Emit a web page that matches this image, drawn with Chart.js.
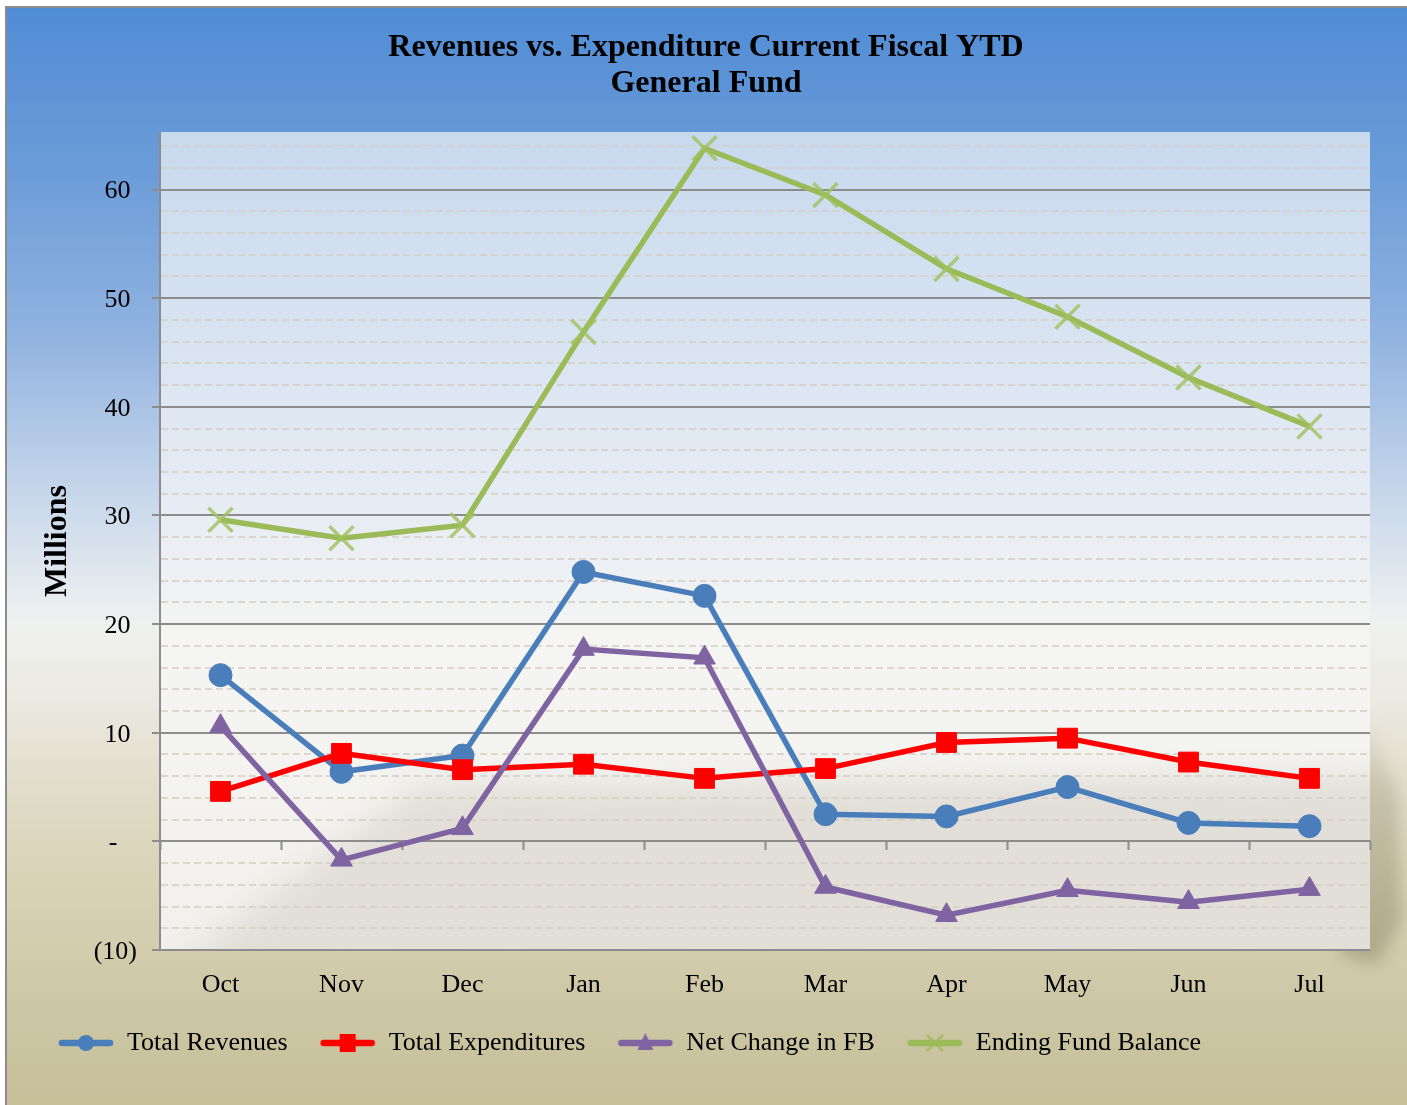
<!DOCTYPE html>
<html>
<head>
<meta charset="utf-8">
<script src="https://cdn.jsdelivr.net/npm/chart.js@4.4.1/dist/chart.umd.min.js"></script>
<style>
  html, body { margin: 0; padding: 0; background: #fff; }
</style>
</head>
<body>
<canvas id="chart" width="1407" height="1105"></canvas>
<script>
// ---------- data
const months = ['Oct', 'Nov', 'Dec', 'Jan', 'Feb', 'Mar', 'Apr', 'May', 'Jun', 'Jul']
const totalRevenues = [15.3, 6.4, 7.9, 24.8, 22.6, 2.5, 2.3, 5.0, 1.7, 1.4]
const totalExpenditures = [4.6, 8.1, 6.6, 7.1, 5.8, 6.7, 9.1, 9.5, 7.3, 5.8]
const netChangeFB = [10.6, -1.7, 1.2, 17.7, 16.9, -4.2, -6.8, -4.5, -5.6, -4.4]
const endingFundBalance = [29.6, 27.9, 29.1, 46.9, 63.8, 59.5, 52.7, 48.3, 42.7, 38.2]
const yTicks = [-10, -8, -6, -4, -2, 0, 2, 4, 6, 8, 10, 12, 14, 16, 18, 20, 22, 24, 26, 28, 30,
  32, 34, 36, 38, 40, 42, 44, 46, 48, 50, 52, 54, 56, 58, 60, 62, 64]
const yMin = -10, yMax = 65.3

const SERIF = "'Liberation Serif', 'Times New Roman', serif"
Chart.defaults.font.family = SERIF
Chart.defaults.color = '#000'

const AXIS_GRAY = '#8c8c8c'
const NBSP = '\u00a0'

function isMajor(v) { return v % 10 === 0 }

// excel accounting style: (10), -, 10 with the paren room kept on the right
function fmtAccounting(v) {
  if (v === 0) return '-' + NBSP + NBSP + NBSP
  if (v < 0) return '(' + Math.abs(v) + ')'
  return String(v) + NBSP
}

// little line + marker pictures for the legend
function legendIcon(color, shape) {
  const c = document.createElement('canvas')
  c.width = 56; c.height = 26
  const g = c.getContext('2d')
  g.strokeStyle = color; g.fillStyle = color
  g.lineWidth = 6.5; g.lineCap = 'round'
  g.beginPath(); g.moveTo(4, 13); g.lineTo(52, 13); g.stroke()
  const cx = 28, cy = 13
  g.beginPath()
  if (shape === 'circle') {
    g.arc(cx, cy, 8, 0, Math.PI * 2); g.fill()
  } else if (shape === 'rect') {
    g.fillRect(cx - 8, cy - 9, 16, 18)
  } else if (shape === 'triangle') {
    g.moveTo(cx, cy - 10); g.lineTo(cx + 8, cy + 7); g.lineTo(cx - 8, cy + 7); g.closePath(); g.fill()
  } else {
    g.strokeStyle = 'rgba(155,187,89,0.8)'
    g.lineWidth = 2.5; g.lineCap = 'butt'
    g.moveTo(cx - 8, cy - 8); g.lineTo(cx + 8, cy + 8)
    g.moveTo(cx + 8, cy - 8); g.lineTo(cx - 8, cy + 8); g.stroke()
  }
  return c
}

const legendIcons = [
  legendIcon('#4a7ebb', 'circle'),
  legendIcon('#ff0000', 'rect'),
  legendIcon('#8064a2', 'triangle'),
  legendIcon('#9bbb59', 'cross')
]

// backgrounds: outer gradient, plot area gradient, shadow
const backdrop = {
  id: 'backdrop',
  afterLayout(chart) {
    // excel centres the title on the whole frame
    chart.titleBlock.left += 8
    chart.titleBlock.right += 8
  },
  beforeDraw(chart) {
    const { ctx, width, height, chartArea: a } = chart
    ctx.save()
    ctx.fillStyle = '#fff'
    ctx.fillRect(0, 0, width, height)

    const g = ctx.createLinearGradient(0, 6, 0, height)
    g.addColorStop(0, '#508cd5')
    g.addColorStop(0.15, '#6b9cd8')
    g.addColorStop(0.3, '#91b3e0')
    g.addColorStop(0.45, '#c9d8eb')
    g.addColorStop(0.56, '#eff1f0')
    g.addColorStop(0.63, '#ebe9e1')
    g.addColorStop(0.76, '#dcd6bd')
    g.addColorStop(0.9, '#cfc8a7')
    g.addColorStop(1, '#c6bf98')
    ctx.fillStyle = g
    ctx.fillRect(6, 7, width - 6, height - 7)
    ctx.strokeStyle = AXIS_GRAY
    ctx.lineWidth = 2
    ctx.strokeRect(6, 7, width + 10, height + 10)

    // shadow at the lower right of the plot
    ctx.save()
    ctx.beginPath()
    ctx.rect(a.right, a.top, width - a.right, height - a.top)
    ctx.rect(a.left, a.bottom, a.width, 60)
    ctx.clip()
    ctx.filter = 'blur(8px)'
    const s = ctx.createLinearGradient(0, a.bottom - 240, 0, a.bottom)
    s.addColorStop(0, 'rgba(150,145,115,0)')
    s.addColorStop(0.35, 'rgba(150,145,115,0.35)')
    s.addColorStop(1, 'rgba(140,135,105,0.5)')
    ctx.fillStyle = s
    ctx.beginPath()
    ctx.moveTo(a.right - 10, a.bottom - 240)
    ctx.lineTo(a.right + 28, a.bottom - 160)
    ctx.lineTo(a.right + 32, a.bottom - 30)
    ctx.lineTo(a.right + 8, a.bottom + 14)
    ctx.lineTo(a.right - 30, a.bottom + 6)
    ctx.closePath()
    ctx.fill()
    ctx.restore()

    // plot area
    const p = ctx.createLinearGradient(0, a.top, 0, a.bottom)
    p.addColorStop(0, '#c8d9ee')
    p.addColorStop(0.45, '#e6ecf4')
    p.addColorStop(0.62, '#f5f5f3')
    p.addColorStop(1, '#f1f0ec')
    ctx.fillStyle = p
    ctx.fillRect(a.left, a.top, a.width, a.height)

    ctx.save()
    ctx.beginPath()
    ctx.rect(a.left, a.top, a.width, a.height)
    ctx.clip()
    ctx.filter = 'blur(14px)'
    ctx.fillStyle = 'rgba(222,220,212,0.85)'
    ctx.beginPath()
    ctx.moveTo(a.left + 10, a.bottom + 20)
    ctx.lineTo(a.left + 260, a.bottom - 165)
    ctx.lineTo(a.right + 30, a.bottom - 175)
    ctx.lineTo(a.right + 30, a.bottom + 30)
    ctx.closePath()
    ctx.fill()
    ctx.restore()

    ctx.restore()
  }
}

const ctx = document.getElementById('chart').getContext('2d')
const chart = new Chart(ctx, {
  type: 'line',
  data: {
    labels: months,
    datasets: [{
      label: 'Total Revenues',
      data: totalRevenues,
      borderColor: '#4a7ebb',
      backgroundColor: '#4a7ebb',
      borderWidth: 5.5,
      pointStyle: 'circle',
      pointRadius: 11.5,
      pointHoverRadius: 11.5,
      pointBorderWidth: 1,
      order: 4
    }, {
      label: 'Total Expenditures',
      data: totalExpenditures,
      borderColor: '#ff0000',
      backgroundColor: '#ff0000',
      borderWidth: 5.5,
      pointStyle: 'rect',
      pointRadius: 14,
      pointHoverRadius: 14,
      pointBorderWidth: 1,
      order: 3
    }, {
      label: 'Net Change in FB',
      data: netChangeFB,
      borderColor: '#8064a2',
      backgroundColor: '#8064a2',
      borderWidth: 5.5,
      pointStyle: 'triangle',
      pointRadius: 12.5,
      pointHoverRadius: 12.5,
      pointBorderWidth: 1,
      order: 2
    }, {
      label: 'Ending Fund Balance',
      data: endingFundBalance,
      borderColor: '#9bbb59',
      backgroundColor: '#9bbb59',
      borderWidth: 5.5,
      pointStyle: 'crossRot',
      pointRadius: 17,
      pointHoverRadius: 17,
      pointBorderWidth: 3.5,
      pointBorderColor: 'rgba(160,192,95,0.8)',
      order: 1
    }]
  },
  options: {
    responsive: false,
    animation: false,
    layout: { padding: { left: 26, right: 37, top: 0, bottom: 39 } },
    plugins: {
      title: {
        display: true,
        text: ['Revenues vs. Expenditure Current Fiscal YTD', 'General Fund'],
        color: '#000',
        font: { size: 32, weight: 'bold', lineHeight: 1.125 },
        padding: { top: 30, bottom: 30 }
      },
      legend: {
        position: 'bottom',
        align: 'start',
        labels: {
          usePointStyle: true,
          pointStyleWidth: 56,
          padding: 32,
          color: '#000',
          font: { size: 26 },
          sort: (a, b) => a.datasetIndex - b.datasetIndex,
          generateLabels(ch) {
            const items = Chart.defaults.plugins.legend.labels.generateLabels(ch)
            items.forEach(it => { it.pointStyle = legendIcons[it.datasetIndex] })
            return items
          }
        }
      },
      tooltip: { enabled: false }
    },
    scales: {
      x: {
        type: 'category',
        position: 'bottom',
        offset: true,
        grid: { display: false, drawTicks: false },
        border: { display: false },
        ticks: { font: { size: 26 }, color: '#000', padding: 20 },
        afterFit(s) { s.height = 48 }
      },
      xZero: {
        type: 'category',
        position: { y: 0 },
        offset: true,
        grid: {
          offset: true,
          drawOnChartArea: false,
          drawTicks: true,
          tickLength: 8,
          tickColor: AXIS_GRAY,
          tickWidth: 2
        },
        border: { display: true, color: AXIS_GRAY, width: 2 },
        ticks: { display: false }
      },
      y: {
        min: yMin,
        max: yMax,
        position: 'left',
        afterBuildTicks(s) { s.ticks = yTicks.map(v => ({ value: v })) },
        afterFit(s) { s.width = 134 },
        grid: {
          color: c => isMajor(c.tick.value) ? AXIS_GRAY : 'rgba(214,208,198,0.8)',
          lineWidth: 2,
          tickLength: 8,
          tickWidth: 2,
          tickColor: c => isMajor(c.tick.value) ? AXIS_GRAY : 'rgba(0,0,0,0)'
        },
        border: {
          display: true,
          color: AXIS_GRAY,
          width: 2,
          dash: c => (c.tick && !isMajor(c.tick.value)) ? [7, 4] : []
        },
        ticks: {
          autoSkip: false,
          padding: 15,
          labelOffset: 2,
          color: '#000',
          font: { size: 26 },
          callback: v => isMajor(v) ? fmtAccounting(v) : ''
        },
        title: {
          display: true,
          text: 'Millions',
          color: '#000',
          font: { size: 32, weight: 'bold', lineHeight: 1.125 },
          padding: { top: 14, bottom: 0 }
        }
      }
    }
  },
  plugins: [backdrop]
})
</script>
</body>
</html>
